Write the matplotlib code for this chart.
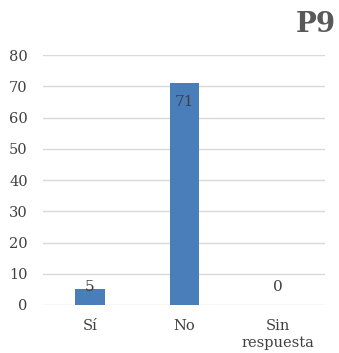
import numpy as np
import matplotlib.pyplot as plt

# respuestas a la pregunta 9
categorias = ["Sí", "No", "Sin\nrespuesta"]
valores = [5, 71, 0]
titulo = "P9"

plt.rcParams['font.family'] = ['DejaVu Serif']

fig = plt.figure(figsize=(3.39, 3.53), dpi=100)
ax = fig.add_axes([0.127, 0.136, 0.832, 0.708])

x = np.arange(len(categorias))
ax.bar(x, valores, width=0.31, color='#4a7ebb', zorder=3)

# etiquetas de datos: dentro de la barra si es alta, encima si es baja
for xi, v in zip(x, valores):
    y = v - 6 if v > 12 else 5.6
    ax.text(xi, y, str(v), ha='center', va='center', fontsize=11,
            color='#404040', zorder=4)

ax.set_xlim(-0.5, 2.5)
ax.set_ylim(0, 80)
ax.set_yticks(range(0, 81, 10))
ax.set_xticks(x)
ax.set_xticklabels(categorias, fontsize=10.5, color='#404040', linespacing=1.25)
ax.tick_params(axis='y', labelsize=10.5, labelcolor='#404040', length=0, pad=11)
ax.tick_params(axis='x', length=0, pad=10)
ax.yaxis.grid(True, color='#d9d9d9', linewidth=1, zorder=0)
for s in ax.spines.values():
    s.set_visible(False)

fig.text(0.99, 0.93, titulo, ha='right', va='center', fontsize=20,
         fontweight='bold', color='#595959')

fig.savefig('out.png', dpi=100)
